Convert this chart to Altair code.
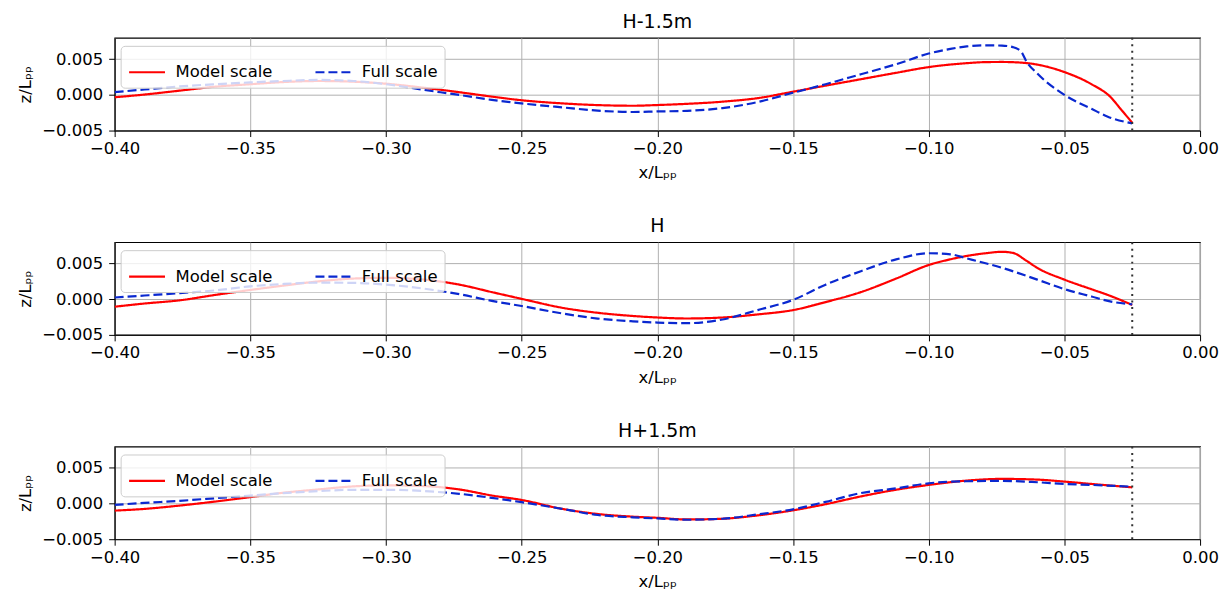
import altair as alt
import pandas as pd

TITLES = ["H-1.5m", "H", "H+1.5m"]
SERIES = ["Model scale", "Full scale"]
X_TICKS = [-0.40, -0.35, -0.30, -0.25, -0.20, -0.15, -0.10, -0.05, 0.00]
Y_TICKS = [-0.005, 0.0, 0.005]
BOW_X = [-0.025]

# Panel 1 (H-1.5m)
P1_MODEL_X = [-0.400, -0.389, -0.376, -0.363, -0.350, -0.338, -0.325, -0.312, -0.300, -0.286, -0.273, -0.261,
              -0.250, -0.235, -0.222, -0.209, -0.200, -0.189, -0.176, -0.163, -0.150, -0.138, -0.125, -0.112,
              -0.100, -0.086, -0.079, -0.073, -0.065, -0.060, -0.050, -0.040, -0.033, -0.029, -0.025]
P1_MODEL_Z = [-0.33e-3, 0.05e-3, 0.60e-3, 1.15e-3, 1.50e-3, 1.80e-3, 1.95e-3, 1.85e-3, 1.57e-3, 1.00e-3, 0.38e-3, -0.24e-3,
              -0.75e-3, -1.19e-3, -1.43e-3, -1.52e-3, -1.42e-3, -1.25e-3, -0.95e-3, -0.45e-3, 0.45e-3, 1.30e-3, 2.20e-3, 3.10e-3,
              3.90e-3, 4.45e-3, 4.60e-3, 4.62e-3, 4.50e-3, 4.25e-3, 3.20e-3, 1.50e-3, -0.30e-3, -2.10e-3, -3.90e-3]
P1_FULL_X = [-0.400, -0.389, -0.376, -0.363, -0.350, -0.338, -0.325, -0.312, -0.300, -0.286, -0.273, -0.261,
             -0.250, -0.235, -0.222, -0.209, -0.200, -0.189, -0.176, -0.163, -0.150, -0.138, -0.125, -0.112,
             -0.100, -0.092, -0.086, -0.079, -0.073, -0.069, -0.066, -0.064, -0.060, -0.050, -0.040, -0.034, -0.025]
P1_FULL_Z = [0.38e-3, 0.76e-3, 1.19e-3, 1.50e-3, 1.75e-3, 1.95e-3, 2.10e-3, 1.95e-3, 1.50e-3, 0.70e-3, 0.00e-3, -0.70e-3,
             -1.19e-3, -1.75e-3, -2.20e-3, -2.40e-3, -2.32e-3, -2.23e-3, -1.85e-3, -1.00e-3, 0.30e-3, 1.50e-3, 2.90e-3, 4.30e-3,
             5.80e-3, 6.45e-3, 6.80e-3, 6.95e-3, 6.92e-3, 6.70e-3, 6.10e-3, 4.70e-3, 3.00e-3, 0.00e-3, -1.95e-3, -3.05e-3, -4.00e-3]

# Panel 2 (H)
P2_MODEL_X = [-0.400, -0.389, -0.376, -0.363, -0.350, -0.338, -0.325, -0.312, -0.300, -0.286, -0.273, -0.261,
              -0.250, -0.235, -0.222, -0.209, -0.200, -0.189, -0.176, -0.163, -0.150, -0.138, -0.125, -0.112,
              -0.100, -0.092, -0.086, -0.079, -0.073, -0.069, -0.064, -0.060, -0.050, -0.040, -0.034, -0.025]
P2_MODEL_Z = [-1.05e-3, -0.60e-3, -0.15e-3, 0.60e-3, 1.30e-3, 1.90e-3, 2.50e-3, 2.90e-3, 3.00e-3, 2.75e-3, 2.05e-3, 1.00e-3,
              0.05e-3, -1.20e-3, -1.90e-3, -2.35e-3, -2.56e-3, -2.70e-3, -2.56e-3, -2.13e-3, -1.52e-3, -0.40e-3, 1.00e-3, 2.90e-3,
              4.80e-3, 5.60e-3, 6.07e-3, 6.45e-3, 6.65e-3, 6.50e-3, 5.40e-3, 4.40e-3, 2.75e-3, 1.40e-3, 0.60e-3, -0.80e-3]
P2_FULL_X = [-0.400, -0.389, -0.376, -0.363, -0.350, -0.338, -0.325, -0.312, -0.300, -0.286, -0.273, -0.261,
             -0.250, -0.235, -0.222, -0.209, -0.200, -0.189, -0.176, -0.163, -0.150, -0.138, -0.125, -0.112,
             -0.100, -0.092, -0.086, -0.073, -0.060, -0.050, -0.040, -0.034, -0.025]
P2_FULL_Z = [0.24e-3, 0.52e-3, 0.86e-3, 1.24e-3, 1.81e-3, 2.14e-3, 2.33e-3, 2.29e-3, 2.05e-3, 1.48e-3, 0.71e-3, -0.24e-3,
             -0.95e-3, -2.00e-3, -2.71e-3, -3.10e-3, -3.27e-3, -3.36e-3, -2.84e-3, -1.52e-3, -0.09e-3, 2.04e-3, 3.93e-3, 5.59e-3,
             6.45e-3, 6.30e-3, 5.73e-3, 4.41e-3, 2.75e-3, 1.42e-3, 0.38e-3, -0.24e-3, -0.71e-3]

# Panel 3 (H+1.5m)
P3_X = [-0.400, -0.389, -0.376, -0.363, -0.350, -0.338, -0.325, -0.312, -0.299, -0.286, -0.273, -0.261,
        -0.250, -0.235, -0.222, -0.209, -0.200, -0.189, -0.176, -0.163, -0.150, -0.138, -0.125, -0.112,
        -0.100, -0.086, -0.073, -0.060, -0.050, -0.040, -0.025]
P3_MODEL_Z = [-0.99e-3, -0.75e-3, -0.28e-3, 0.28e-3, 0.90e-3, 1.51e-3, 1.98e-3, 2.41e-3, 2.55e-3, 2.45e-3, 1.98e-3, 1.13e-3,
              0.50e-3, -0.75e-3, -1.46e-3, -1.84e-3, -2.00e-3, -2.23e-3, -2.13e-3, -1.66e-3, -0.95e-3, -0.09e-3, 1.00e-3, 1.94e-3,
              2.61e-3, 3.22e-3, 3.46e-3, 3.36e-3, 3.08e-3, 2.75e-3, 2.27e-3]
P3_FULL_Z = [-0.19e-3, 0.09e-3, 0.38e-3, 0.75e-3, 1.13e-3, 1.46e-3, 1.75e-3, 1.93e-3, 1.93e-3, 1.75e-3, 1.37e-3, 0.80e-3,
             0.19e-3, -0.75e-3, -1.60e-3, -1.93e-3, -2.09e-3, -2.27e-3, -2.13e-3, -1.52e-3, -0.81e-3, 0.24e-3, 1.47e-3, 2.13e-3,
             2.84e-3, 3.13e-3, 3.18e-3, 2.99e-3, 2.75e-3, 2.61e-3, 2.37e-3]

PANELS = [
    (TITLES[0], (P1_MODEL_X, P1_MODEL_Z), (P1_FULL_X, P1_FULL_Z)),
    (TITLES[1], (P2_MODEL_X, P2_MODEL_Z), (P2_FULL_X, P2_FULL_Z)),
    (TITLES[2], (P3_X, P3_MODEL_Z), (P3_X, P3_FULL_Z)),
]

FONT = "DejaVu Sans"
RED = "#ff0000"
BLUE = "#0a28d0"
X_SCALE = alt.Scale(domain=[-0.4, 0.0], nice=False, zero=False)
Y_SCALE = alt.Scale(domain=[-0.005, 0.008], nice=False, zero=False)


def panel(title, model, full):
    rows = []
    for i, (xs, zs) in enumerate([model, full]):
        for k, (xv, zv) in enumerate(zip(xs, zs)):
            rows.append({"x": xv, "z": zv, "series": SERIES[i], "order": i * 1000 + k})
    df = pd.DataFrame(rows)

    legend = alt.Legend(
        title=None, orient="none", legendX=6, legendY=8, direction="horizontal", columns=2,
        symbolType="stroke", symbolSize=1296, symbolStrokeWidth=2.2,
        labelFont=FONT, labelFontSize=16.5, labelColor="black", labelOffset=9,
        columnPadding=38, padding=7, fillColor="rgba(255,255,255,0.8)",
        strokeColor="#cccccc", cornerRadius=4,
    )
    x_enc = alt.X("x:Q", scale=X_SCALE,
                  axis=alt.Axis(values=X_TICKS, format=".2f", title="x/Lₚₚ", labelFlush=False))
    y_enc = alt.Y("z:Q", scale=Y_SCALE,
                  axis=alt.Axis(values=Y_TICKS, format=".3f", title="z/Lₚₚ", labelFlush=False))

    lines = alt.Chart(df).mark_line(strokeWidth=2.2, interpolate="monotone", clip=True).encode(
        x=x_enc, y=y_enc,
        color=alt.Color("series:N", scale=alt.Scale(domain=SERIES, range=[RED, BLUE]), legend=legend),
        strokeDash=alt.StrokeDash("series:N", scale=alt.Scale(domain=SERIES, range=[[1, 0], [9, 4]]), legend=legend),
        order="order:Q",
    )
    rule = alt.Chart(pd.DataFrame({"x": BOW_X})).mark_rule(
        color="#333333", strokeWidth=2, strokeDash=[2, 4.5]
    ).encode(x=alt.X("x:Q", scale=X_SCALE))
    return alt.layer(lines, rule).properties(
        width=1089, height=93, title=alt.TitleParams(title)
    )


charts = [panel(t, m, f) for t, m, f in PANELS]
chart = alt.vconcat(*charts, spacing=34).resolve_scale(
    color="independent", strokeDash="independent"
).properties(
    padding={"left": 9, "top": 3, "right": 2, "bottom": 0}
).configure_view(
    stroke="black", strokeWidth=1.2
).configure_axis(
    grid=True, gridColor="#b0b0b0", gridWidth=1, domainColor="black", tickColor="black",
    tickSize=6, labelPadding=4, labelFont=FONT, labelFontSize=16.5, labelColor="black",
    titleFont=FONT, titleFontSize=16.5, titleFontWeight="normal", titleColor="black",
).configure_axisY(
    titlePadding=8, labelPadding=6
).configure_axisX(
    titlePadding=8
).configure_title(
    font=FONT, fontSize=19, fontWeight="normal", color="black", offset=5, anchor="middle"
)

chart.save("out.html", embed_options={"renderer": "svg", "actions": False})
